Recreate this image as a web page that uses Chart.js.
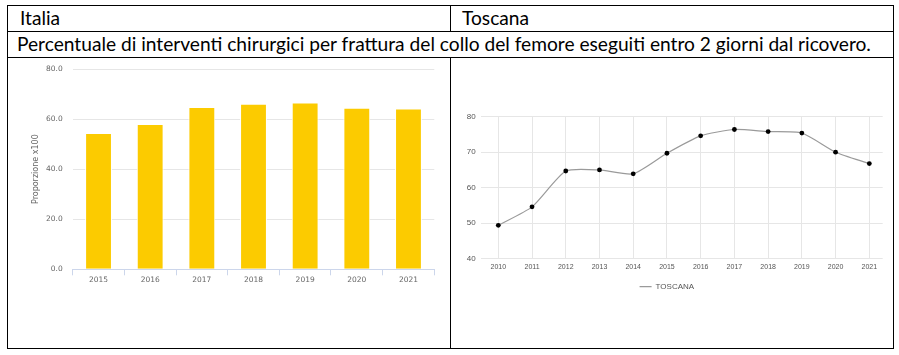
<!DOCTYPE html>
<html>
<head>
<meta charset="utf-8">
<script src="https://cdn.jsdelivr.net/npm/chart.js@4"></script>
<style>
  html, body { margin: 0; padding: 0; background: #fff; }
  body { width: 899px; height: 355px; position: relative; overflow: hidden; }
  .ln { position: absolute; background: #000; }
  .txt { position: absolute; font-family: Lato, "Open Sans", sans-serif; color: #000; white-space: nowrap; }
  canvas { position: absolute; }
</style>
</head>
<body>
<div class="ln" style="left:7px;top:5px;width:887px;height:1px"></div>
<div class="ln" style="left:7px;top:31px;width:887px;height:1px"></div>
<div class="ln" style="left:7px;top:57px;width:887px;height:1px"></div>
<div class="ln" style="left:7px;top:348px;width:887px;height:1px"></div>
<div class="ln" style="left:7px;top:5px;width:1px;height:344px"></div>
<div class="ln" style="left:893px;top:5px;width:1px;height:344px"></div>
<div class="ln" style="left:450px;top:5px;width:1px;height:27px"></div>
<div class="ln" style="left:450px;top:57px;width:1px;height:292px"></div>

<div class="txt" id="t1" style="left:20px;top:8px;">Italia</div>
<div class="txt" id="t2" style="left:462px;top:8px;">Toscana</div>
<div class="txt" id="t3" style="left:17px;top:34px;">Percentuale di interventi chirurgici per frattura del collo del femore eseguiti entro 2 giorni dal ricovero.</div>

<canvas id="bar" width="442" height="289" style="left:8px;top:58px"></canvas>
<canvas id="line" width="441" height="289" style="left:451px;top:58px"></canvas>

<script>
// ---- data ----
const barYears = ["2015", "2016", "2017", "2018", "2019", "2020", "2021"];
const barValues = [54.4, 58.0, 64.8, 66.1, 66.6, 64.5, 64.2];
const barTicks = [0, 20, 40, 60, 80];

const lineYears = [2010, 2011, 2012, 2013, 2014, 2015, 2016, 2017, 2018, 2019, 2020, 2021];
const lineValues = [49.4, 54.6, 64.7, 65.0, 63.9, 69.7, 74.6, 76.4, 75.8, 75.4, 70.0, 66.8];
const lineTicks = [40, 50, 60, 70, 80];
const lineLabel = "TOSCANA";
const lineColor = '#9a9a9a';

// ---- fit header text size ----
(function () {
  const c = document.createElement('canvas').getContext('2d');
  c.font = '16px Lato';
  const w = c.measureText(document.getElementById('t3').textContent).width;
  const fs = 16 * 855 / w;
  ['t1', 't2', 't3'].forEach(id => {
    const el = document.getElementById(id);
    el.style.fontSize = fs + 'px';
    el.style.lineHeight = '20px';
  });
})();

// ---- bar chart (Italia) ----
new Chart(document.getElementById('bar'), {
  type: 'bar',
  data: {
    labels: barYears,
    datasets: [{
      data: barValues,
      backgroundColor: '#fccb00',
      borderColor: '#ffffff',
      borderWidth: 1,
      barPercentage: 0.52,
      categoryPercentage: 1
    }]
  },
  options: {
    responsive: false,
    animation: false,
    layout: { padding: { left: 0, right: 15.7, top: 11, bottom: 0 } },
    plugins: { legend: { display: false }, tooltip: { enabled: false } },
    scales: {
      x: {
        grid: { offset: true, drawOnChartArea: false, drawTicks: true, tickLength: 6, color: '#ccd6eb' },
        border: { color: '#ccd6eb' },
        ticks: { font: { family: 'DejaVu Sans', size: 7.5 }, color: '#666', padding: 0 },
        afterFit: s => { s.height = 77.7; s.paddingLeft = 0; s.paddingRight = 0; }
      },
      y: {
        min: 0, max: 80,
        afterBuildTicks: s => { s.ticks = barTicks.map(v => ({ value: v })); },
        ticks: { font: { family: 'DejaVu Sans', size: 7.5 }, color: '#666', padding: 10, callback: v => Number(v).toFixed(1) },
        grid: { color: '#e6e6e6', drawTicks: false },
        border: { display: false },
        title: { display: true, text: 'Proporzione x100', font: { family: 'DejaVu Sans', size: 8 }, color: '#666', padding: { top: 23.2, bottom: 0 } },
        afterFit: s => { s.width = 64.7; s.paddingTop = 0; s.paddingBottom = 0; }
      }
    }
  }
});

// ---- line chart (Toscana) ----
new Chart(document.getElementById('line'), {
  type: 'line',
  data: {
    datasets: [{
      label: lineLabel,
      data: lineYears.map((y, i) => ({ x: y, y: lineValues[i] })),
      borderColor: lineColor,
      borderWidth: 1.2,
      tension: 0.2,
      pointRadius: 2.4,
      pointBackgroundColor: '#000',
      pointBorderColor: '#000',
      pointBorderWidth: 0
    }]
  },
  options: {
    responsive: false,
    animation: false,
    layout: { padding: { left: 0, right: 9.3, top: 58.7, bottom: 46.3 } },
    plugins: {
      tooltip: { enabled: false },
      legend: {
        position: 'bottom',
        labels: {
          usePointStyle: true, pointStyle: 'line', pointStyleWidth: 12,
          font: { family: 'Liberation Sans', size: 8 }, color: '#555',
          generateLabels: chart => Chart.defaults.plugins.legend.labels.generateLabels(chart).map(l => Object.assign(l, { strokeStyle: lineColor, lineWidth: 1.2, pointStyle: 'line' }))
        }
      }
    },
    scales: {
      x: {
        type: 'linear',
        min: 2009.487, max: 2021.397,
        afterBuildTicks: s => { s.ticks = lineYears.map(v => ({ value: v })); },
        ticks: { font: { family: 'Liberation Sans', size: 7 }, color: '#555', padding: 4, callback: v => String(v) },
        grid: { color: '#e6e6e6', drawTicks: false },
        border: { display: false },
        afterFit: s => { s.height = 14; s.paddingLeft = 0; s.paddingRight = 0; }
      },
      y: {
        min: 40, max: 80,
        afterBuildTicks: s => { s.ticks = lineTicks.map(v => ({ value: v })); },
        ticks: { font: { family: 'Liberation Sans', size: 8 }, color: '#555', padding: 5.3 },
        grid: { color: '#e6e6e6', drawTicks: false },
        border: { display: false },
        afterFit: s => { s.width = 30; s.paddingTop = 0; s.paddingBottom = 0; }
      }
    }
  }
});
</script>
</body>
</html>
